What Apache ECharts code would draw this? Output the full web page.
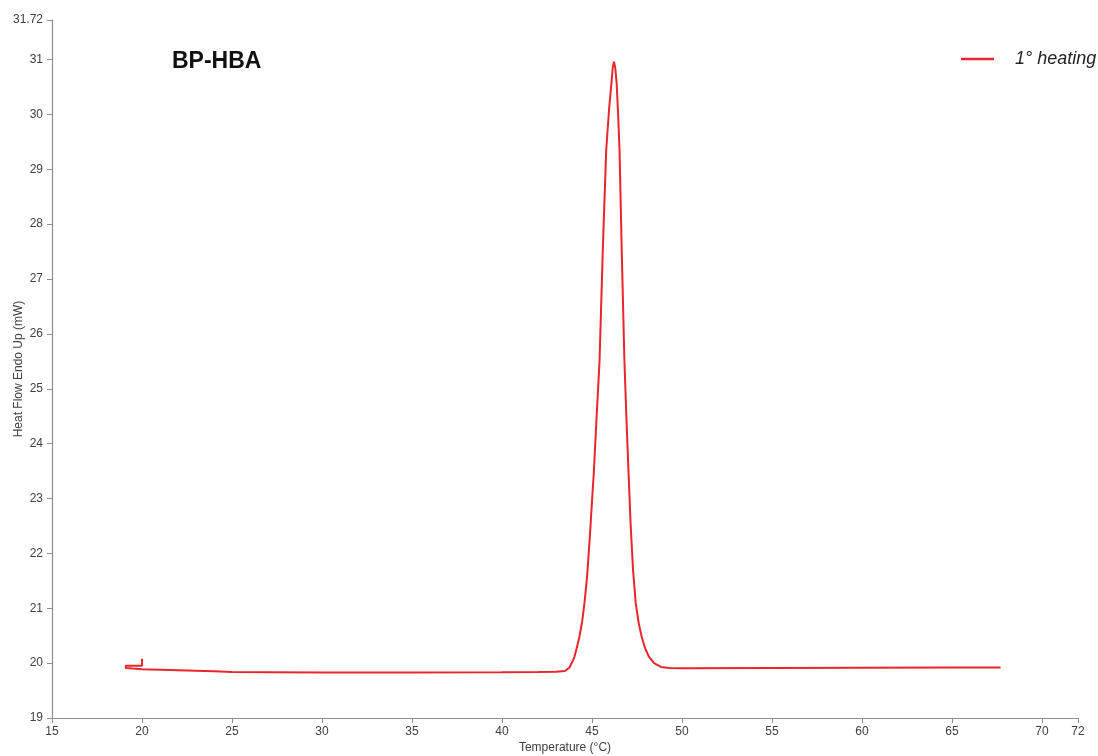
<!DOCTYPE html>
<html>
<head>
<meta charset="utf-8">
<title>BP-HBA DSC</title>
<script src="https://cdn.jsdelivr.net/npm/echarts@6/dist/echarts.min.js"></script>
<style>
  html, body { margin: 0; padding: 0; background: #ffffff; }
  #chart { width: 1098px; height: 756px; }
</style>
</head>
<body>
<div id="chart"></div>
<script>
// DSC trace of BP-HBA, first heating run
const temperature = [
  20.0, 20.0, 19.1, 19.05, 19.1, 19.5, 20.0, 21.0, 22.0, 23.0, 24.0, 25.0, 27.0,
  30.0, 35.0, 40.0, 42.0, 43.0, 43.5, 43.75, 43.9, 44.03, 44.15, 44.3, 44.45,
  44.58, 44.72, 44.87, 45.0, 45.1, 45.25, 45.42, 45.6, 45.7, 45.79, 45.95, 46.08,
  46.15, 46.22, 46.29, 46.37, 46.45, 46.53, 46.65, 46.8, 46.92, 47.03, 47.15,
  47.28, 47.43, 47.6, 47.76, 47.95, 48.16, 48.45, 48.83, 49.3, 50.0, 55.0, 60.0,
  65.0, 67.7
];
const heatFlow = [
  20.08, 19.95, 19.95, 19.93, 19.91, 19.90, 19.89, 19.88, 19.87, 19.86, 19.85, 19.84, 19.835,
  19.83, 19.83, 19.835, 19.84, 19.845, 19.855, 19.92, 20.02, 20.12, 20.27, 20.48, 20.75,
  21.09, 21.55, 22.25, 22.95, 23.47, 24.45, 25.52, 27.53, 28.5, 29.35, 30.1, 30.57,
  30.85, 30.96, 30.85, 30.57, 30.0, 29.35, 27.53, 25.52, 24.4, 23.47, 22.5,
  21.7, 21.09, 20.72, 20.48, 20.27, 20.12, 20.0, 19.93, 19.91, 19.905, 19.91, 19.915,
  19.92, 19.92
];
const seriesName = '1° heating';
const sampleName = 'BP-HBA';

const points = temperature.map((t, i) => [t, heatFlow[i]]);

const axisGray = '#8f8f8f';
const labelColor = '#404040';

const chart = echarts.init(document.getElementById('chart'), null, { renderer: 'canvas' });
chart.setOption({
  animation: false,
  backgroundColor: '#ffffff',
  textStyle: { fontFamily: 'Liberation Sans, Arial, sans-serif' },
  grid: { left: 52, right: 20, top: 20, bottom: 38, containLabel: false, outerBoundsMode: 'none' },
  graphic: [{
    type: 'text',
    left: 172,
    top: 50,
    style: {
      text: sampleName,
      fontSize: 23,
      fontWeight: 'bold',
      fontFamily: 'Liberation Sans, Arial, sans-serif',
      fill: '#111111'
    }
  }],
  legend: {
    left: 956,
    top: 45,
    icon: 'rect',
    itemWidth: 33,
    itemHeight: 2.5,
    textStyle: {
      fontSize: 18,
      fontStyle: 'italic',
      color: '#222222',
      padding: [0, 0, 0, 16]
    },
    data: [seriesName]
  },
  xAxis: {
    type: 'value',
    min: 15,
    max: 72,
    interval: 5,
    name: 'Temperature (°C)',
    nameLocation: 'middle',
    nameGap: 24,
    nameMoveOverlap: false,
    nameTextStyle: { fontSize: 12, color: labelColor },
    axisLine: { show: true, lineStyle: { color: axisGray, width: 1.2 } },
    axisTick: { show: true, inside: false, length: 5, lineStyle: { color: axisGray } },
    axisLabel: { fontSize: 12, color: labelColor, margin: 8 },
    splitLine: { show: false }
  },
  yAxis: {
    type: 'value',
    min: 19,
    max: 31.72,
    interval: 1,
    name: 'Heat Flow Endo Up (mW)',
    nameLocation: 'middle',
    nameGap: 27,
    nameMoveOverlap: false,
    nameTextStyle: { fontSize: 12, color: labelColor },
    axisLine: { show: true, lineStyle: { color: axisGray, width: 1.2 } },
    axisTick: { show: true, inside: false, length: 5, lineStyle: { color: axisGray } },
    axisLabel: { fontSize: 12, color: labelColor, margin: 9 },
    splitLine: { show: false }
  },
  series: [{
    name: seriesName,
    type: 'line',
    data: points,
    showSymbol: false,
    symbol: 'none',
    smooth: false,
    color: '#e8262b',
    lineStyle: { color: '#e8262b', width: 2 }
  }]
});
</script>
</body>
</html>
